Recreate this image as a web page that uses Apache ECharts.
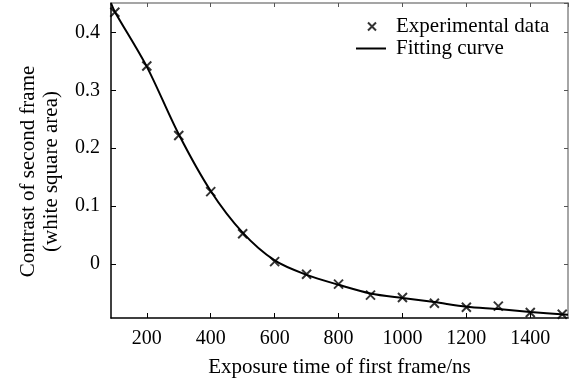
<!DOCTYPE html>
<html>
<head>
<meta charset="utf-8">
<script src="https://cdn.jsdelivr.net/npm/echarts@6/dist/echarts.min.js"></script>
<style>
  html, body { margin: 0; padding: 0; background: #fff; }
  #chart { width: 571px; height: 385px; }
</style>
</head>
<body>
<div id="chart"></div>
<script>
// measured points (exposure time in ns, contrast)
var expTime = [100, 200, 300, 400, 500, 600, 700, 800, 900, 1000, 1100, 1200, 1300, 1400, 1500];
var expContrast = [0.435, 0.342, 0.222, 0.125, 0.052, 0.004, -0.018, -0.035, -0.054, -0.058, -0.068, -0.075, -0.073, -0.084, -0.087];

// fitted curve
var fitTime = [88, 100, 200, 300, 400, 500, 600, 700, 800, 900, 1000, 1100, 1200, 1300, 1400, 1518];
var fitContrast = [0.451, 0.436, 0.341, 0.224, 0.126, 0.054, 0.006, -0.019, -0.036, -0.051, -0.059, -0.066, -0.074, -0.078, -0.083, -0.088];

var xMin = 88, xMax = 1518;
var yMin = -0.0935, yMax = 0.451;

var FONT = 'Liberation Serif';
var crossPath = 'path://M0 0L10 10M10 0L0 10';

var expData = expTime.map(function (t, i) { return [t, expContrast[i]]; });
var fitData = fitTime.map(function (t, i) { return [t, fitContrast[i]]; });

var plain = function (v) { return String(v); };

var myChart = echarts.init(document.getElementById('chart'));

myChart.setOption({
    animation: false,
    grid: { left: 111, right: 3, top: 3, bottom: 67, containLabel: false },
    legend: [
        {
            data: [{ name: 'Experimental data', icon: crossPath }],
            left: 367, top: 16, padding: 0,
            itemWidth: 8, itemHeight: 8,
            textStyle: { fontFamily: FONT, fontSize: 21, color: '#000', padding: [0, 0, 0, 15] }
        },
        {
            data: [{ name: 'Fitting curve', icon: 'rect' }],
            left: 356, top: 38, padding: 0,
            itemWidth: 30, itemHeight: 2,
            itemStyle: { color: '#000' },
            textStyle: { fontFamily: FONT, fontSize: 21, color: '#000', padding: [0, 0, 0, 5] }
        }
    ],
    xAxis: [
        {
            type: 'value', min: xMin, max: xMax, splitNumber: 7,
            name: 'Exposure time of first frame/ns',
            nameLocation: 'middle', nameGap: 39,
            nameTextStyle: { fontFamily: FONT, fontSize: 21, color: '#000' },
            axisLine: { onZero: false, lineStyle: { color: '#000', width: 1.5 } },
            axisTick: { inside: true, length: 5, lineStyle: { color: '#000' } },
            axisLabel: { fontFamily: FONT, fontSize: 20, color: '#000', margin: 11, showMinLabel: false, showMaxLabel: false, formatter: plain },
            splitLine: { show: false }
        },
        {
            type: 'value', min: xMin, max: xMax, splitNumber: 7, position: 'top',
            axisLine: { onZero: false, lineStyle: { color: '#888', width: 1.5 } },
            axisTick: { inside: true, length: 4, lineStyle: { color: '#555' } },
            axisLabel: { show: false },
            splitLine: { show: false }
        }
    ],
    yAxis: [
        {
            type: 'value', min: yMin, max: yMax, splitNumber: 5,
            name: 'Contrast of second frame\n(white square area)',
            nameLocation: 'middle', nameGap: 48,
            nameTextStyle: { fontFamily: FONT, fontSize: 21, color: '#000', lineHeight: 23, padding: [0, 22, 0, 0] },
            axisLine: { onZero: false, lineStyle: { color: '#000', width: 1.5 } },
            axisTick: { inside: true, length: 5, lineStyle: { color: '#000' } },
            axisLabel: { fontFamily: FONT, fontSize: 20, color: '#000', margin: 11, showMinLabel: false, showMaxLabel: false, formatter: plain },
            splitLine: { show: false }
        },
        {
            type: 'value', min: yMin, max: yMax, splitNumber: 5, position: 'right',
            axisLine: { onZero: false, lineStyle: { color: '#888', width: 1.5 } },
            axisTick: { inside: true, length: 4, lineStyle: { color: '#555' } },
            axisLabel: { show: false },
            splitLine: { show: false }
        }
    ],
    series: [
        {
            name: 'Fitting curve',
            type: 'line',
            data: fitData,
            smooth: 0.3,
            symbol: 'none',
            showSymbol: false,
            lineStyle: { color: '#000', width: 2 },
            itemStyle: { color: '#000' },
            z: 2
        },
        {
            name: 'Experimental data',
            type: 'scatter',
            data: expData,
            symbol: crossPath,
            symbolSize: 9,
            itemStyle: { color: '#000', borderColor: '#000', borderWidth: 2 },
            z: 3
        }
    ]
});
</script>
</body>
</html>
